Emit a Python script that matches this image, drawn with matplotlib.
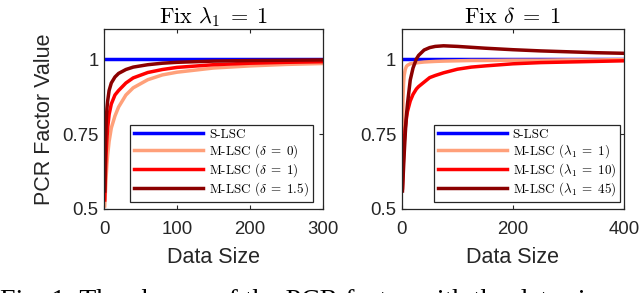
import numpy as np
import matplotlib as mpl
import matplotlib.pyplot as plt

# left panel: fix lambda_1 = 1
x_left = [1, 2, 3, 4, 5, 7, 10, 15, 20, 30, 40, 60, 80, 100, 150, 200, 250, 300]
m_lsc_d0 = [0.51, 0.56, 0.61, 0.65, 0.68, 0.725, 0.77, 0.81, 0.84, 0.88, 0.904, 0.931,
            0.947, 0.956, 0.970, 0.977, 0.982, 0.985]
m_lsc_d1 = [0.53, 0.62, 0.69, 0.735, 0.77, 0.815, 0.85, 0.88, 0.895, 0.92, 0.937, 0.955,
            0.965, 0.972, 0.981, 0.986, 0.989, 0.991]
m_lsc_d15 = [0.56, 0.72, 0.79, 0.835, 0.86, 0.895, 0.92, 0.94, 0.952, 0.965, 0.973, 0.981,
             0.986, 0.989, 0.993, 0.995, 0.996, 0.997]

# right panel: fix delta = 1
x_right = [1, 2, 3, 4, 6, 8, 10, 15, 20, 26, 30, 40, 50, 60, 75, 100, 125, 150, 200,
           250, 300, 350, 400]
m_lsc_l1 = [0.76, 0.87, 0.92, 0.945, 0.965, 0.975, 0.979, 0.984, 0.986, 0.987, 0.988,
            0.99, 0.991, 0.992, 0.993, 0.994, 0.995, 0.995, 0.996, 0.996, 0.997, 0.997, 0.998]
m_lsc_l10 = [0.57, 0.63, 0.68, 0.72, 0.77, 0.80, 0.825, 0.86, 0.882, 0.90, 0.908, 0.923,
             0.938, 0.945, 0.954, 0.966, 0.973, 0.977, 0.984, 0.988, 0.99, 0.992, 0.994]
m_lsc_l45 = [0.56, 0.60, 0.64, 0.68, 0.75, 0.81, 0.85, 0.93, 0.97, 1.0, 1.012, 1.03,
             1.038, 1.042, 1.044, 1.042, 1.039, 1.036, 1.031, 1.027, 1.024, 1.021, 1.019]

c_blue = '#0000FF'
c_light = '#FFA07A'
c_red = '#FF0000'
c_dark = '#8B0000'

mpl.rcParams['mathtext.fontset'] = 'cm'
mpl.rcParams['axes.unicode_minus'] = False
sans = 'Liberation Sans'
serif = 'cmr10'
spine_c = '#262626'

fig = plt.figure(figsize=(6.4, 2.93), dpi=100)
ax1 = fig.add_axes([0.1625, 0.2867, 0.3422, 0.6143])
ax2 = fig.add_axes([0.628, 0.2867, 0.3469, 0.6143])

lw = 2.5
ax1.plot([0, 300], [1, 1], color=c_blue, lw=lw, label='S-LSC')
ax1.plot(x_left, m_lsc_d0, color=c_light, lw=lw, label=r'M-LSC ($\delta\;=\;0$)')
ax1.plot(x_left, m_lsc_d1, color=c_red, lw=lw, label=r'M-LSC ($\delta\;=\;1$)')
ax1.plot(x_left, m_lsc_d15, color=c_dark, lw=lw, label=r'M-LSC ($\delta\;=\;1.5$)')

ax2.plot([0, 400], [1, 1], color=c_blue, lw=lw, label='S-LSC')
ax2.plot(x_right, m_lsc_l1, color=c_light, lw=lw, label=r'M-LSC ($\lambda_1\;=\;1$)')
ax2.plot(x_right, m_lsc_l10, color=c_red, lw=lw, label=r'M-LSC ($\lambda_1\;=\;10$)')
ax2.plot(x_right, m_lsc_l45, color=c_dark, lw=lw, label=r'M-LSC ($\lambda_1\;=\;45$)')

ax1.set_xlim(0, 300)
ax1.set_xticks([0, 100, 200, 300])
ax2.set_xlim(0, 400)
ax2.set_xticks([0, 200, 400])

for ax in (ax1, ax2):
    ax.set_ylim(0.5, 1.1)
    ax.set_yticks([0.5, 0.75, 1])
    ax.set_yticklabels(['0.5', '0.75', '1'])
    ax.tick_params(direction='in', top=True, right=True, length=3, width=0.8,
                   labelsize=13.4, pad=4, color=spine_c, labelcolor='#262626')
    ax.tick_params(axis='x', pad=9)
    for lab in ax.get_xticklabels() + ax.get_yticklabels():
        lab.set_family(sans)
    for s in ax.spines.values():
        s.set_color(spine_c)
        s.set_linewidth(0.9)
    ax.set_xlabel('Data Size', fontsize=15.5, family=sans, color='#262626', labelpad=6)

ax1.set_ylabel('PCR Factor Value', fontsize=15.5, family=sans, color='#262626', labelpad=5)
ax1.set_title(r'Fix $\lambda_1\;=\;1$', fontsize=16, family=serif, pad=4)
ax2.set_title(r'Fix $\delta\;=\;1$', fontsize=16, family=serif, pad=4)

leg_kw = dict(loc='lower right', borderaxespad=0, fancybox=False, framealpha=1,
              edgecolor=spine_c, handlelength=5.3, handletextpad=0.45,
              labelspacing=0.1, borderpad=0.3, prop={'family': serif, 'size': 9.4})
l1 = ax1.legend(bbox_to_anchor=(0.954, 0.039), **leg_kw)
l2 = ax2.legend(bbox_to_anchor=(0.982, 0.039), **leg_kw)
for l in (l1, l2):
    l.get_frame().set_linewidth(0.9)

# caption, cut off at the bottom edge as in the source
fig.text(0.0, -0.052, 'Fig. 1: The change of the PCR factor with the data size',
         fontsize=20, family='Liberation Serif', va='baseline', ha='left')

fig.savefig('out.png', dpi=100)
